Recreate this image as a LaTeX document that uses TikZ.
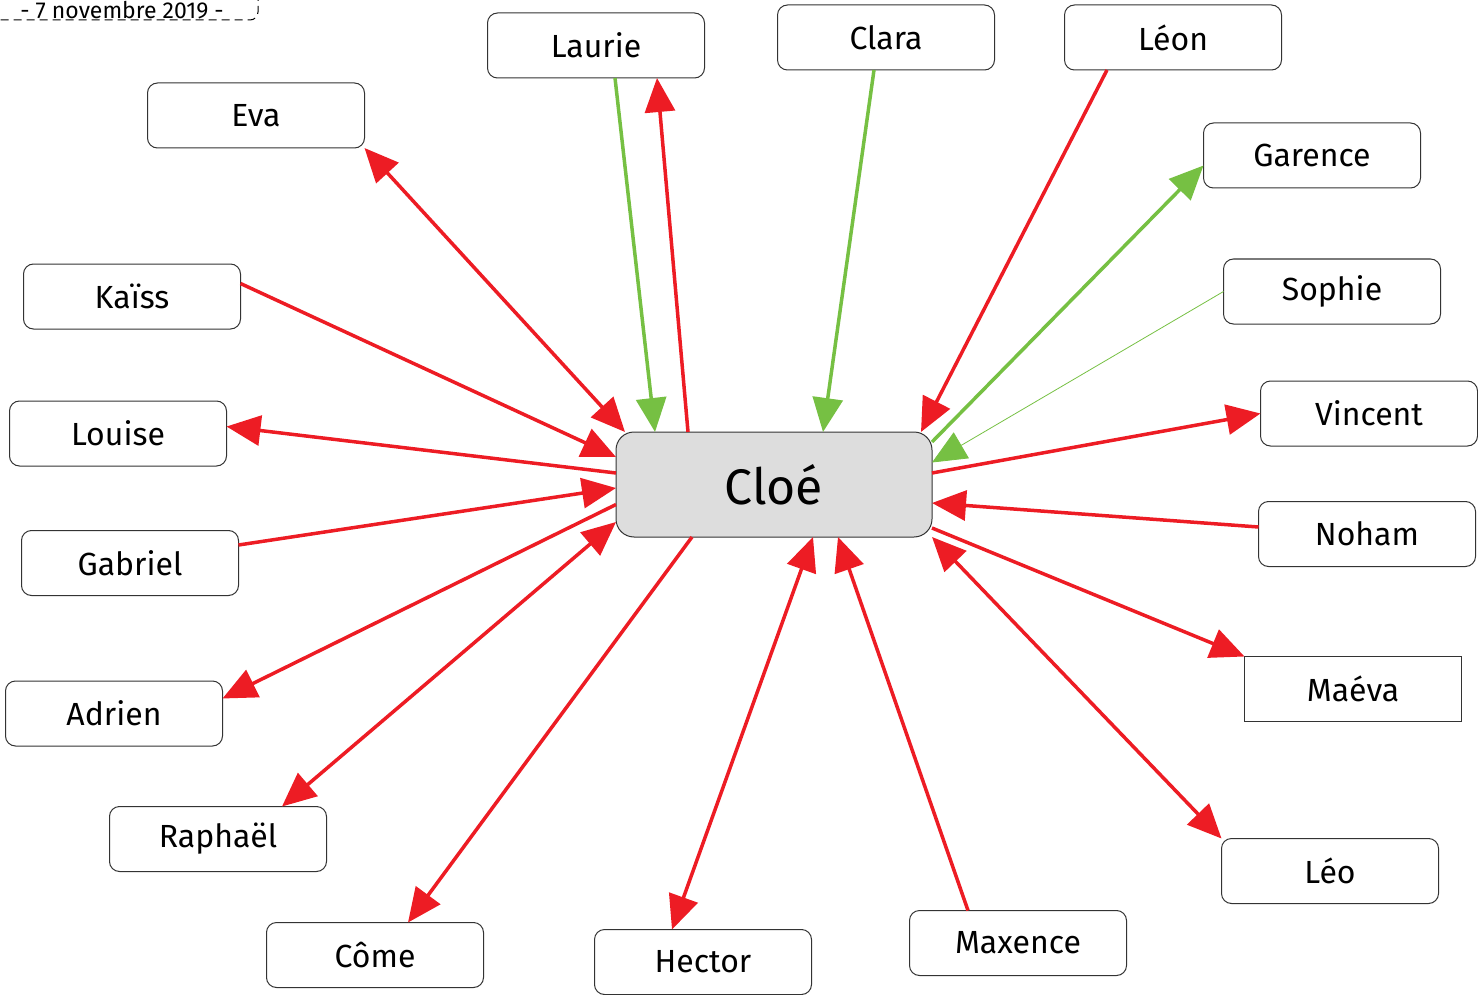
\documentclass[tikz,border=0pt]{standalone}
\usepackage{fontspec}
\setmainfont{Fira Sans}
\usetikzlibrary{arrows.meta}

\definecolor{rouge}{RGB}{237,28,36}
\definecolor{vert}{RGB}{118,192,67}
\definecolor{gris}{RGB}{221,221,221}

\begin{document}
\begin{tikzpicture}[x=1pt,y=-1pt,
  person/.style={draw=black!80, line width=1pt, fill=white, rounded corners=10pt, minimum width=217pt, minimum height=65pt, inner sep=0pt, outer sep=0pt, font=\fontsize{32}{38}\selectfont},
  centre/.style={draw=black!80, line width=1pt, fill=gris, rounded corners=18pt, minimum width=316pt, minimum height=105pt, inner sep=0pt, outer sep=0pt, font=\fontsize{50}{56}\selectfont},
  tip/.tip={Triangle[length=34pt,width=30pt]},
  rl/.style={draw=rouge, line width=3.5pt, -tip},
  rll/.style={draw=rouge, line width=3.5pt, tip-tip},
  vl/.style={draw=vert, line width=3.5pt, -tip}]
\useasboundingbox (0,0) rectangle (1478,995);

% date
\draw[dash pattern=on 8pt off 5pt, line width=1pt, rounded corners=8pt] (-10,-20) rectangle (258,20);
\node[font=\fontsize{23}{26}\selectfont] (date) at (122,10) {- 7 novembre 2019 -};

\node[centre] (cloe) at (774,484.5) {Cloé};

\node[person] (laurie) at (596,45.5) {Laurie};
\node[person] (clara) at (886,37.5) {Clara};
\node[person] (leon) at (1173,37.5) {Léon};
\node[person] (eva) at (256,115.5) {Eva};
\node[person] (garence) at (1312,155.5) {Garence};
\node[person] (kaiss) at (132,296.5) {Kaïss};
\node[person] (sophie) at (1332,291.5) {Sophie};
\node[person] (louise) at (118,433.5) {Louise};
\node[person] (vincent) at (1369,413.5) {Vincent};
\node[person] (noham) at (1367,534) {Noham};
\node[person] (gabriel) at (130,563) {Gabriel};
\node[person, rounded corners=0pt] (maeva) at (1353,689) {Maéva};
\node[person] (adrien) at (114,713.5) {Adrien};
\node[person] (raphael) at (218,839) {Raphaël};
\node[person] (leo) at (1330,871) {Léo};
\node[person] (come) at (375,955) {Côme};
\node[person] (hector) at (703,962) {Hector};
\node[person] (maxence) at (1018,943) {Maxence};

% top
\draw[vl] ([xshift=19pt]laurie.south) -- ([xshift=-119pt]cloe.north);
\draw[rl] ([xshift=-86pt]cloe.north) -- ([xshift=61pt]laurie.south);
\draw[vl] ([xshift=-12pt]clara.south) -- ([xshift=49pt]cloe.north);
\draw[rl] ([xshift=-66pt]leon.south) -- ([xshift=147pt]cloe.north);
\draw[rll] ([xshift=9pt]cloe.north west) -- (eva.south east);

% right
\draw[vl] ([yshift=-10pt]cloe.north east) -- ([yshift=-10pt]garence.west);
\draw[draw=vert, line width=0.8pt, -tip] (sophie.west) -- ([yshift=22pt]cloe.east);
\draw[rl] ([yshift=11.5pt]cloe.east) -- (vincent.west);
\draw[rl] ([yshift=7pt]noham.west) -- ([yshift=-18.5pt]cloe.east);
\draw[rl] ([yshift=-43.5pt]cloe.east) -- (maeva.north west);
\draw[rll] (cloe.south east) -- (leo.north west);

% bottom
\draw[rl] ([xshift=-50pt]maxence.north) -- ([xshift=64pt]cloe.south);
\draw[rll] ([xshift=39pt]cloe.south) -- ([xshift=-31pt]hector.north);
\draw[rl] ([xshift=-82pt]cloe.south) -- ([xshift=33pt]come.north);

% left
\draw[rll] ([yshift=-37.5pt]cloe.west) -- ([xshift=64pt]raphael.north);
\draw[rl] ([yshift=-20pt]cloe.west) -- ([yshift=15pt]adrien.east);
\draw[rl] ([yshift=18pt]gabriel.east) -- ([yshift=-3.5pt]cloe.west);
\draw[rl] ([yshift=11.5pt]cloe.west) -- ([yshift=7pt]louise.east);
\draw[rl] ([yshift=13pt]kaiss.east) -- ([yshift=27.5pt]cloe.west);
\end{tikzpicture}
\end{document}
